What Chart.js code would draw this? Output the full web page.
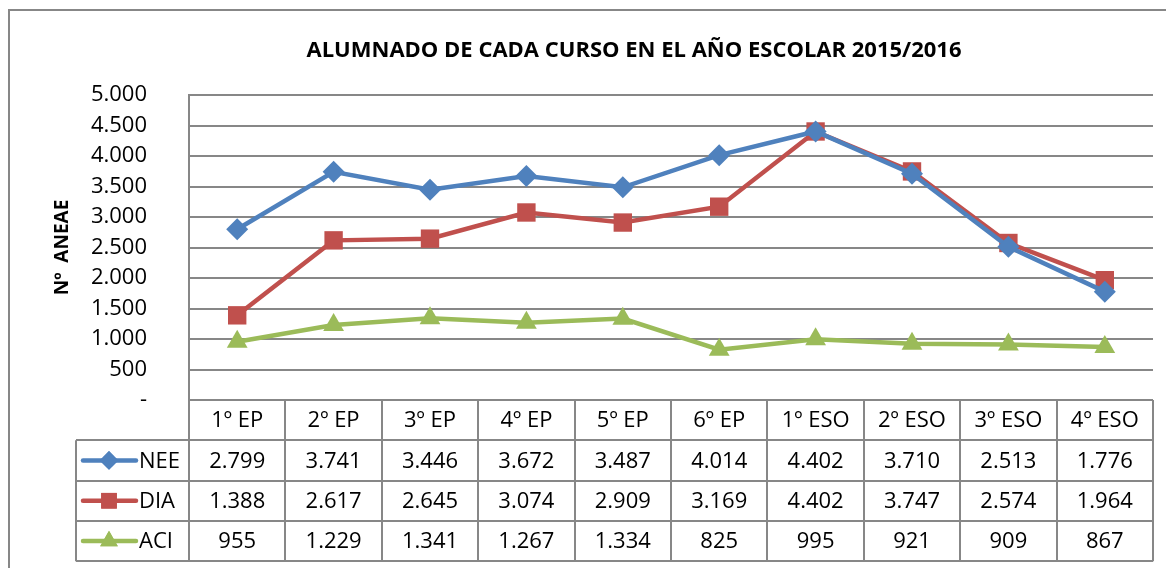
<!DOCTYPE html>
<html>
<head>
<meta charset="utf-8">
<script src="https://cdn.jsdelivr.net/npm/chart.js@4/dist/chart.umd.min.js"></script>
<style>
html,body{margin:0;padding:0;background:#fff;}
#wrap{position:relative;width:1166px;height:568px;}
</style>
</head>
<body>
<div id="wrap"><canvas id="c" width="1166" height="568"></canvas></div>
<script>
const titleText = 'ALUMNADO DE CADA CURSO EN EL AÑO ESCOLAR 2015/2016';
const yTitle = 'Nº  ANEAE';
const categories = ['1º EP','2º EP','3º EP','4º EP','5º EP','6º EP','1º ESO','2º ESO','3º ESO','4º ESO'];
const seriesNames = ['NEE','DIA','ACI'];
const nee = [2799,3741,3446,3672,3487,4014,4402,3710,2513,1776];
const dia = [1388,2617,2645,3074,2909,3169,4402,3747,2574,1964];
const aci = [955,1229,1341,1267,1334,825,995,921,909,867];
const colors = ['#4F81BD','#C0504D','#9BBB59'];
const pointStyles = ['rectRot','rect','triangle'];
const pointRadii = [11,13,12];

const FONT = '"Open Sans", "Liberation Sans", sans-serif';
const GRID = '#878787';

function fmt(v){
  if (v === 0) return '-';
  return String(v).replace(/\B(?=(\d{3})+(?!\d))/g, '.');
}

const seriesData = [nee, dia, aci];

const tablePlugin = {
  id: 'tablePlugin',
  beforeDraw(chart){
    const ctx = chart.ctx;
    ctx.save();
    ctx.strokeStyle = GRID;
    ctx.lineWidth = 2;
    ctx.beginPath();
    ctx.moveTo(9, 568); ctx.lineTo(9, 10); ctx.lineTo(1166, 10);
    ctx.stroke();
    ctx.restore();
  },
  afterDraw(chart){
    const ctx = chart.ctx;
    const ca = chart.chartArea;
    const xs = chart.scales.x;
    const n = categories.length;
    const colW = (ca.right - ca.left) / n;
    const rowTop = ca.bottom;
    const rowH = 40.3;
    const legLeft = 76;
    ctx.save();
    // main title
    ctx.fillStyle = '#000';
    ctx.font = 'bold 22px ' + FONT;
    ctx.textAlign = 'center';
    ctx.textBaseline = 'middle';
    ctx.fillText(titleText, 634, 51);

    ctx.strokeStyle = GRID;
    ctx.lineWidth = 2;
    ctx.beginPath();
    for (let r = 1; r <= 4; r++) {
      const y = Math.round(rowTop + r * rowH);
      ctx.moveTo(legLeft, y); ctx.lineTo(ca.right, y);
    }
    for (let i = 0; i <= n; i++) {
      const x = Math.round(ca.left + i * colW);
      ctx.moveTo(x, rowTop); ctx.lineTo(x, rowTop + 4 * rowH);
    }
    ctx.moveTo(legLeft, rowTop + rowH); ctx.lineTo(legLeft, rowTop + 4 * rowH);
    ctx.stroke();

    ctx.fillStyle = '#000';
    ctx.font = '22px ' + FONT;
    ctx.textAlign = 'center';
    ctx.textBaseline = 'middle';
    categories.forEach((c, i) => {
      ctx.fillText(c, xs.getPixelForValue(i), rowTop + rowH / 2 + 1);
    });
    seriesData.forEach((arr, s) => {
      const yc = rowTop + rowH * (s + 1.5) + 1;
      arr.forEach((v, i) => {
        ctx.fillText(fmt(v), xs.getPixelForValue(i), yc);
      });
    });
    seriesNames.forEach((name, s) => {
      const yc = rowTop + rowH * (s + 1.5);
      ctx.strokeStyle = colors[s];
      ctx.lineWidth = 4.5;
      ctx.lineCap = 'round';
      ctx.beginPath();
      ctx.moveTo(83, yc); ctx.lineTo(136, yc);
      ctx.stroke();
      ctx.fillStyle = colors[s];
      Chart.helpers.drawPoint(ctx, {pointStyle: pointStyles[s], radius: pointRadii[s] * 0.85, rotation: 0, borderWidth: 0}, 109, yc);
      ctx.fill();
      ctx.fillStyle = '#000';
      ctx.textAlign = 'left';
      ctx.fillText(name, 139, yc + 1);
    });
    ctx.restore();
  }
};

const datasets = seriesNames.map((name, s) => ({
  label: name,
  data: seriesData[s],
  borderColor: colors[s],
  backgroundColor: colors[s],
  borderWidth: 4.5,
  pointStyle: pointStyles[s],
  pointRadius: pointRadii[s],
  pointBorderWidth: 0,
  pointBackgroundColor: colors[s],
  tension: 0,
  fill: false
}));

new Chart(document.getElementById('c'), {
  type: 'line',
  data: { labels: categories, datasets },
  options: {
    responsive: false,
    animation: false,
    layout: { padding: { left: 0, right: 10, top: 95, bottom: 168 } },
    plugins: {
      legend: { display: false },
      tooltip: { enabled: false },
      title: { display: false }
    },
    scales: {
      x: {
        type: 'category',
        offset: true,
        display: false
      },
      y: {
        min: 0, max: 5000,
        afterFit(scale){ scale.width = 189; },
        ticks: {
          stepSize: 500,
          color: '#000',
          padding: 42,
          font: { family: FONT, size: 22 },
          callback: (v) => fmt(v)
        },
        grid: { color: GRID, lineWidth: 2, drawTicks: false },
        border: { display: true, color: GRID, width: 2 },
        title: {
          display: true,
          text: yTitle,
          color: '#000',
          font: { family: FONT, size: 19, weight: 'bold' },
          padding: { top: 51, bottom: 0 }
        }
      }
    }
  },
  plugins: [tablePlugin]
});
</script>
</body>
</html>
